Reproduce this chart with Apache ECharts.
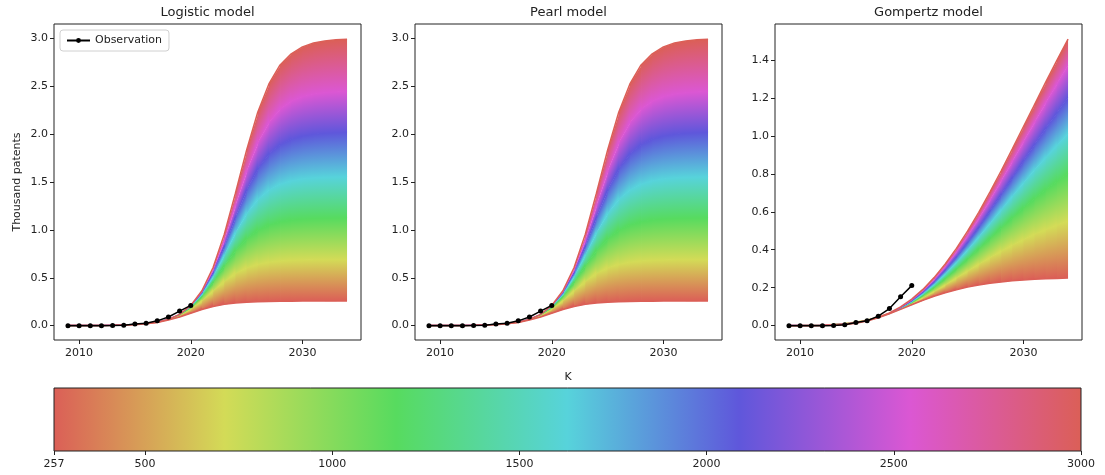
<!DOCTYPE html>
<html>
<head>
<meta charset="utf-8">
<script src="https://cdn.jsdelivr.net/npm/echarts@6/dist/echarts.min.js"></script>
<style>
  html, body { margin: 0; padding: 0; background: #fff; }
  #chart { width: 1105px; height: 475px; }
</style>
</head>
<body>
<div id="chart"></div>
<script>
// ---- data ----
const years = [2009, 2010, 2011, 2012, 2013, 2014, 2015, 2016, 2017, 2018, 2019, 2020, 2021,
  2022, 2023, 2024, 2025, 2026, 2027, 2028, 2029, 2030, 2031, 2032, 2033, 2034];

const obsYears = [2009, 2010, 2011, 2012, 2013, 2014, 2015, 2016, 2017, 2018, 2019, 2020];
const obsValues = [0, 0, 0, 0, 0.001, 0.005, 0.017, 0.026, 0.05, 0.09, 0.152, 0.211];

// K values at the hue stops of the colour bar, and their colours
const kStops = [257, 714, 1171, 1628, 2086, 2543, 3000];
const kColors = ['#db5f57', '#d3db57', '#57db5f', '#57d3db', '#5f57db', '#db57d3', '#db5f57'];
const cbarTicks = [257, 500, 1000, 1500, 2000, 2500, 3000];

// Logistic model curves (thousand patents), one per K stop
const logisticK257 = [0.0003, 0.0005, 0.001, 0.0018, 0.0032, 0.0058, 0.0104, 0.0185, 0.032, 0.058, 0.09, 0.129, 0.168,
  0.2, 0.222, 0.237, 0.245, 0.25, 0.253, 0.254, 0.255, 0.256, 0.256, 0.256, 0.256, 0.256];
const logisticK714 = [0.0003, 0.0005, 0.001, 0.0018, 0.0032, 0.0059, 0.0107, 0.0194, 0.0348, 0.0612, 0.1045, 0.17, 0.259,
  0.362, 0.462, 0.544, 0.602, 0.639, 0.661, 0.674, 0.681, 0.685, 0.688, 0.689, 0.689, 0.69];
const logisticK1171 = [0.0003, 0.0005, 0.001, 0.0018, 0.0032, 0.0059, 0.0108, 0.0196, 0.0354, 0.0633, 0.111, 0.188, 0.303,
  0.454, 0.623, 0.782, 0.908, 0.995, 1.05, 1.083, 1.102, 1.112, 1.118, 1.121, 1.123, 1.124];
const logisticK1628 = [0.0003, 0.0005, 0.001, 0.0018, 0.0032, 0.0059, 0.0108, 0.0197, 0.0358, 0.0643, 0.114, 0.197, 0.327,
  0.511, 0.736, 0.968, 1.168, 1.318, 1.416, 1.476, 1.511, 1.531, 1.542, 1.548, 1.551, 1.553];
const logisticK2086 = [0.0003, 0.0005, 0.001, 0.0018, 0.0032, 0.0059, 0.0108, 0.0197, 0.0359, 0.0649, 0.116, 0.203, 0.344,
  0.553, 0.826, 1.13, 1.413, 1.637, 1.792, 1.889, 1.946, 1.979, 1.998, 2.008, 2.013, 2.017];
const logisticK2543 = [0.0003, 0.0005, 0.001, 0.0018, 0.0032, 0.0059, 0.0108, 0.0198, 0.0361, 0.0653, 0.117, 0.207, 0.355,
  0.581, 0.889, 1.252, 1.61, 1.908, 2.121, 2.259, 2.342, 2.39, 2.417, 2.432, 2.44, 2.444];
const logisticK3000 = [0.0003, 0.0005, 0.001, 0.0018, 0.0032, 0.0059, 0.0108, 0.0198, 0.0362, 0.0656, 0.118, 0.21, 0.364,
  0.607, 0.953, 1.383, 1.832, 2.228, 2.524, 2.722, 2.839, 2.911, 2.951, 2.973, 2.985, 2.992];

// Gompertz model curves
const gompertzK257 = [0, 0, 0, 0.0004, 0.0016, 0.005, 0.0122, 0.0242, 0.0413, 0.0624, 0.0859, 0.11, 0.133,
  0.155, 0.173, 0.189, 0.203, 0.214, 0.223, 0.23, 0.236, 0.241, 0.244, 0.247, 0.249, 0.251];
const gompertzK714 = [0.0002, 0.0005, 0.0012, 0.0028, 0.0057, 0.0107, 0.0184, 0.0296, 0.0447, 0.064, 0.0876, 0.115, 0.146,
  0.179, 0.214, 0.251, 0.287, 0.323, 0.358, 0.392, 0.423, 0.453, 0.481, 0.506, 0.529, 0.55];
const gompertzK1171 = [0.0001, 0.0003, 0.0009, 0.0021, 0.0045, 0.0087, 0.0157, 0.0263, 0.0415, 0.0619, 0.0881, 0.12, 0.158,
  0.201, 0.248, 0.299, 0.352, 0.406, 0.461, 0.516, 0.569, 0.62, 0.67, 0.716, 0.76, 0.8];
const gompertzK1628 = [0.0001, 0.0003, 0.0008, 0.002, 0.0042, 0.0083, 0.0151, 0.0257, 0.041, 0.0622, 0.09, 0.125, 0.167,
  0.216, 0.272, 0.333, 0.398, 0.467, 0.538, 0.61, 0.681, 0.752, 0.821, 0.887, 0.95, 1.01];
const gompertzK2086 = [0.0001, 0.0003, 0.0008, 0.0019, 0.0042, 0.0082, 0.015, 0.0256, 0.0413, 0.0633, 0.0926, 0.13, 0.176,
  0.23, 0.293, 0.362, 0.438, 0.519, 0.604, 0.691, 0.78, 0.868, 0.955, 1.04, 1.121, 1.2];
const gompertzK2543 = [0.0001, 0.0003, 0.0009, 0.002, 0.0042, 0.0083, 0.0152, 0.0261, 0.0422, 0.065, 0.0955, 0.135, 0.184,
  0.242, 0.311, 0.388, 0.473, 0.564, 0.661, 0.762, 0.865, 0.969, 1.072, 1.175, 1.274, 1.37];
const gompertzK3000 = [0.0002, 0.0004, 0.001, 0.0022, 0.0046, 0.0089, 0.016, 0.0273, 0.0439, 0.0674, 0.099, 0.14, 0.191,
  0.253, 0.325, 0.407, 0.498, 0.597, 0.704, 0.815, 0.93, 1.048, 1.165, 1.283, 1.398, 1.51];

const logisticCurves = [logisticK257, logisticK714, logisticK1171, logisticK1628, logisticK2086, logisticK2543, logisticK3000];
// the Pearl panel reads the same as the logistic one
const pearlCurves = logisticCurves;
const gompertzCurves = [gompertzK257, gompertzK714, gompertzK1171, gompertzK1628, gompertzK2086, gompertzK2543, gompertzK3000];

const yTicksLogistic = [0, 0.5, 1.0, 1.5, 2.0, 2.5, 3.0];
const yTicksGompertz = [0, 0.2, 0.4, 0.6, 0.8, 1.0, 1.2, 1.4];
const xTicks = [2010, 2020, 2030];

// ---- layout ----
const FONT = 'DejaVu Sans';
const INK = '#222';
const PLOT_W = 307, PLOT_TOP = 24, PLOT_H = 316;

const panels = [
  { title: 'Logistic model', left: 54, curves: logisticCurves, yMin: -0.15, yMax: 3.15, yTicks: yTicksLogistic, yName: 'Thousand patents' },
  { title: 'Pearl model', left: 415, curves: pearlCurves, yMin: -0.15, yMax: 3.15, yTicks: yTicksLogistic, yName: '' },
  { title: 'Gompertz model', left: 775, curves: gompertzCurves, yMin: -0.0757, yMax: 1.5897, yTicks: yTicksGompertz, yName: '' },
];

const tickStyle = { show: true, inside: false, length: 4, lineStyle: { color: INK, width: 1 } };
const labelStyle = { fontFamily: FONT, fontSize: 11, color: INK, margin: 6 };

// fan of model curves: one polygon per band between neighbouring K curves and per year step,
// filled with a gradient running across the band
function fanSeries(p, gi) {
  const items = [];
  for (let b = 0; b < p.curves.length - 1; b++) {
    for (let j = 0; j < years.length - 1; j++) items.push([b, j]);
  }
  const last = years.length - 2;
  return {
    type: 'custom',
    xAxisIndex: gi,
    yAxisIndex: gi,
    silent: true,
    z: 1,
    data: items,
    renderItem: (params, api) => {
      const b = api.value(0), j = api.value(1);
      const lo = p.curves[b], hi = p.curves[b + 1];
      const L0 = api.coord([years[j], lo[j]]), L1 = api.coord([years[j + 1], lo[j + 1]]);
      const U0 = api.coord([years[j], hi[j]]), U1 = api.coord([years[j + 1], hi[j + 1]]);
      const dx = (L1[0] - L0[0] + U1[0] - U0[0]) / 2;
      const dy = (L1[1] - L0[1] + U1[1] - U0[1]) / 2;
      const len = Math.hypot(dx, dy) || 1;
      const nx = dy / len, ny = -dx / len;
      const mx = (L0[0] + L1[0]) / 2, my = (L0[1] + L1[1]) / 2;
      const ux = (U0[0] + U1[0]) / 2, uy = (U0[1] + U1[1]) / 2;
      let d = (ux - mx) * nx + (uy - my) * ny;
      if (Math.abs(d) < 0.5) d = d < 0 ? -0.5 : 0.5;
      const fill = {
        type: 'linear', global: true,
        x: mx, y: my, x2: mx + nx * d, y2: my + ny * d,
        colorStops: [{ offset: 0, color: kColors[b] }, { offset: 1, color: kColors[b + 1] }],
      };
      // small overlap to the right and upwards hides anti-aliasing seams
      const ox = j < last ? 0.8 : 0;
      const oy = b < p.curves.length - 2 ? 0.8 : 0;
      const pts = [
        [L0[0], L0[1]], [L1[0] + ox, L1[1]],
        [U1[0] + ox, U1[1] - oy], [U0[0], U0[1] - oy],
      ];
      return {
        type: 'polygon',
        shape: { points: pts },
        style: { fill: fill },
      };
    },
  };
}

function edgeSeries(values, gi) {
  return {
    type: 'line', xAxisIndex: gi, yAxisIndex: gi, silent: true, z: 2,
    data: years.map((y, i) => [y, values[i]]),
    symbol: 'none',
    lineStyle: { color: kColors[0], width: 1.5 },
  };
}

const grids = [], xAxes = [], yAxes = [], series = [], graphics = [];

panels.forEach((p, gi) => {
  grids.push({
    left: p.left, top: PLOT_TOP, width: PLOT_W, height: PLOT_H,
    show: true, borderColor: INK, borderWidth: 1, backgroundColor: '#fff',
  });
  xAxes.push({
    type: 'value', gridIndex: gi, min: 2007.75, max: 2035.25,
    axisLine: { show: false, onZero: false },
    splitLine: { show: false },
    axisTick: { ...tickStyle, customValues: xTicks },
    axisLabel: { ...labelStyle, margin: 8, customValues: xTicks, formatter: (v) => String(v) },
  });
  yAxes.push({
    type: 'value', gridIndex: gi, min: p.yMin, max: p.yMax,
    axisLine: { show: false, onZero: false },
    splitLine: { show: false },
    axisTick: { ...tickStyle, customValues: p.yTicks },
    axisLabel: { ...labelStyle, customValues: p.yTicks, formatter: (v) => v.toFixed(1) },
    name: p.yName, nameLocation: 'middle', nameGap: 31,
    nameTextStyle: { fontFamily: FONT, fontSize: 11, color: INK },
  });
  series.push(fanSeries(p, gi));
  series.push(edgeSeries(p.curves[0], gi));
  series.push(edgeSeries(p.curves[p.curves.length - 1], gi));
  series.push({
    name: 'Observation', type: 'line', xAxisIndex: gi, yAxisIndex: gi, z: 5,
    data: obsYears.map((y, i) => [y, obsValues[i]]),
    symbol: 'circle', symbolSize: 5,
    itemStyle: { color: '#000' },
    lineStyle: { color: '#000', width: 1.5 },
  });
  graphics.push({
    type: 'text', x: p.left + PLOT_W / 2, y: 13,
    style: { text: p.title, font: '13px "DejaVu Sans"', fill: INK, align: 'center', verticalAlign: 'middle' },
  });
});

// colour bar
const cbi = panels.length;
grids.push({ left: 54, top: 388, width: 1027, height: 63, show: false });
xAxes.push({
  type: 'value', gridIndex: cbi, min: kStops[0], max: kStops[kStops.length - 1],
  axisLine: { show: false, onZero: false },
  splitLine: { show: false },
  axisTick: { ...tickStyle, customValues: cbarTicks },
  axisLabel: { ...labelStyle, margin: 8, customValues: cbarTicks, formatter: (v) => String(v) },
});
yAxes.push({ type: 'value', gridIndex: cbi, min: 0, max: 1, show: false });
series.push({
  type: 'custom', xAxisIndex: cbi, yAxisIndex: cbi, silent: true,
  data: [[kStops[0], kStops[kStops.length - 1]]],
  renderItem: (params, api) => {
    const a = api.coord([api.value(0), 1]);
    const b = api.coord([api.value(1), 0]);
    const span = kStops[kStops.length - 1] - kStops[0];
    return {
      type: 'rect',
      shape: { x: a[0], y: a[1], width: b[0] - a[0], height: b[1] - a[1] },
      style: {
        fill: {
          type: 'linear', x: 0, y: 0, x2: 1, y2: 0,
          colorStops: kStops.map((k, i) => ({ offset: (k - kStops[0]) / span, color: kColors[i] })),
        },
        stroke: INK, lineWidth: 1,
      },
    };
  },
});
graphics.push({
  type: 'text', x: 568, y: 377,
  style: { text: 'K', font: '11px "DejaVu Sans"', fill: INK, align: 'center', verticalAlign: 'middle' },
});

const chart = echarts.init(document.getElementById('chart'), null, { renderer: 'canvas' });
chart.setOption({
  animation: false,
  backgroundColor: '#fff',
  textStyle: { fontFamily: FONT },
  grid: grids,
  xAxis: xAxes,
  yAxis: yAxes,
  series: series,
  graphic: graphics,
  legend: {
    data: ['Observation'],
    left: 60, top: 30,
    itemWidth: 23, itemHeight: 6,
    padding: [5, 7, 5, 6],
    borderColor: '#d0d0d0', borderWidth: 1, borderRadius: 3,
    backgroundColor: '#fff',
    textStyle: { fontFamily: FONT, fontSize: 11, color: INK },
  },
});
</script>
</body>
</html>
